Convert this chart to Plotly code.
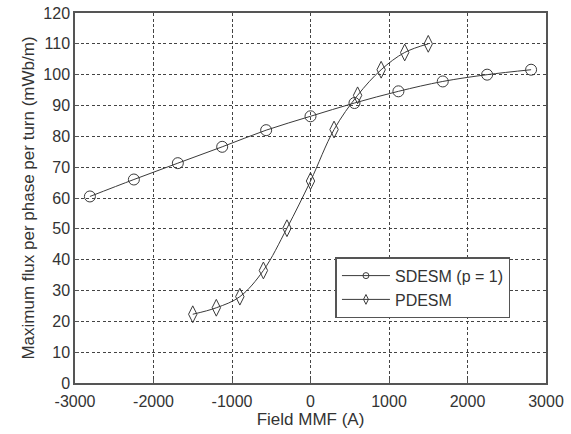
import plotly.graph_objects as go

# Field MMF (A) and maximum flux per phase per turn (mWb/m)
sdesm_mmf = [-2810, -2250, -1690, -1125, -565, 0, 560, 1120, 1685, 2250, 2810]
sdesm_flux = [60.5, 66.0, 71.3, 76.6, 82.0, 86.5, 90.8, 94.6, 97.8, 100.0, 101.6]

pdesm_mmf = [-1500, -1200, -900, -600, -300, 0, 300, 600, 900, 1200, 1500]
pdesm_flux = [22.3, 24.4, 28.0, 36.5, 50.2, 65.5, 82.2, 93.3, 101.6, 107.2, 110.0]

x_ticks = [-3000, -2000, -1000, 0, 1000, 2000, 3000]
x_tick_text = ["-3000", "-2000", "-1000", "0", "1000", "2000", "3000"]
y_ticks = [0, 10, 20, 30, 40, 50, 60, 70, 80, 90, 100, 110, 120]

ink = "#3a3a3a"
family = "Liberation Sans, Arial, sans-serif"
tick_font = dict(family=family, size=16, color="#333333")
title_font = dict(family=family, size=17, color="#333333")

fig = go.Figure()
# data curves (markers drawn full size on the plot)
fig.add_trace(go.Scatter(
    x=sdesm_mmf, y=sdesm_flux, showlegend=False,
    mode="lines+markers", line=dict(color=ink, width=1, shape="spline"),
    marker=dict(symbol="circle-open", size=11, color=ink, line=dict(width=1)),
))
fig.add_trace(go.Scatter(
    x=pdesm_mmf, y=pdesm_flux, showlegend=False,
    mode="lines+markers", line=dict(color=ink, width=1, shape="spline"),
    marker=dict(symbol="diamond-tall-open", size=12, color=ink, line=dict(width=1)),
))
# legend entries with small marker glyphs
fig.add_trace(go.Scatter(
    x=[None], y=[None], name="SDESM (p = 1)", mode="lines+markers",
    line=dict(color=ink, width=1),
    marker=dict(symbol="circle-open", size=6, color=ink, line=dict(width=1)),
))
fig.add_trace(go.Scatter(
    x=[None], y=[None], name="PDESM", mode="lines+markers",
    line=dict(color=ink, width=1),
    marker=dict(symbol="diamond-tall-open", size=7, color=ink, line=dict(width=1)),
))

axis_common = dict(
    showgrid=True, gridcolor="#444444", griddash="3px,2.5px", gridwidth=1,
    showline=True, linecolor="#555555", linewidth=1.5, mirror=True,
    ticks="inside", ticklen=4, tickcolor="#555555",
    zeroline=False, tickfont=tick_font, automargin=False,
)

fig.update_layout(
    width=571, height=434,
    margin=dict(l=75, r=25, t=13, b=51),
    paper_bgcolor="white", plot_bgcolor="white",
    font=tick_font,
    xaxis=dict(range=[-3000, 3000], tickvals=x_ticks, ticktext=x_tick_text,
               ticklabelstandoff=3,
               title=dict(text="Field MMF (A)", font=title_font, standoff=4),
               **axis_common),
    yaxis=dict(range=[0, 120], tickvals=y_ticks,
               title=dict(text="Maximum flux per phase per turn (mWb/m)", font=title_font, standoff=4),
               **axis_common),
    legend=dict(x=0.553, y=0.34, xanchor="left", yanchor="top",
                bgcolor="white", bordercolor="#555555", borderwidth=1.5,
                font=dict(family=family, size=16, color="#333333"),
                tracegroupgap=0, itemwidth=48),
)

fig.write_html("out.html")
